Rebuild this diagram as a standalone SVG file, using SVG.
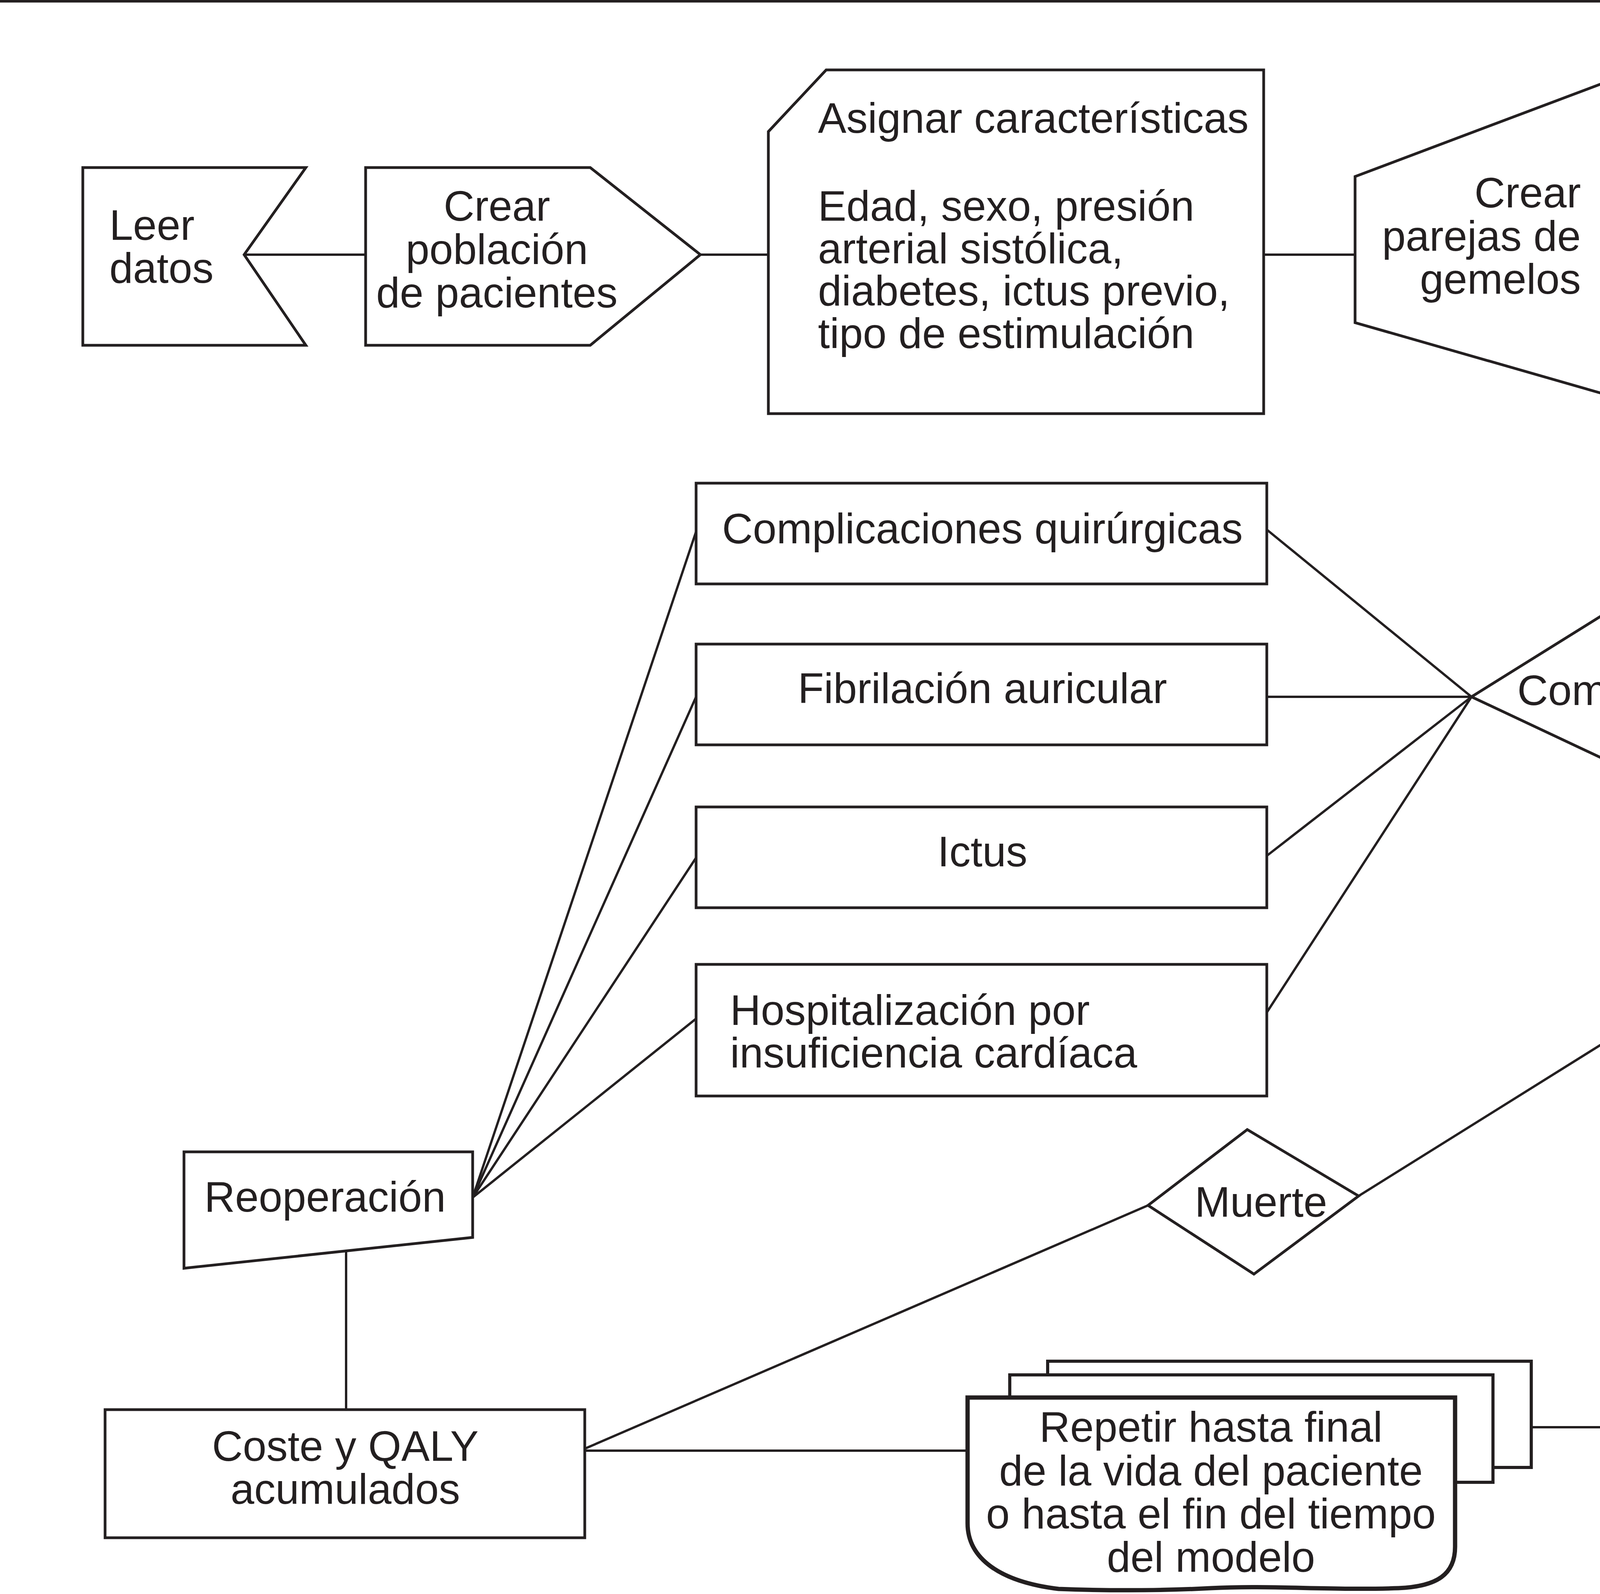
<svg xmlns="http://www.w3.org/2000/svg" width="6534" height="4081" viewBox="0 0 6534 4081">
<style>
.s{fill:#fff;stroke:#231f20;stroke-width:7;stroke-linejoin:miter}
.c{fill:none;stroke:#231f20;stroke-width:6}
.t{font-family:"Liberation Sans",Arial,Helvetica,sans-serif;font-size:109px;fill:#231f20}
.m{text-anchor:middle}
.e{text-anchor:end}
.thick{fill:#fff;stroke:#231f20;stroke-width:11}
.mid{fill:#fff;stroke:#231f20;stroke-width:8}
</style>
<rect x="0" y="0" width="6534" height="4081" fill="#fff"/>
<line x1="0" y1="3" x2="6534" y2="3" stroke="#231f20" stroke-width="7"/>
<g id="connectors">
<line class="c" x1="625" y1="652" x2="936" y2="652"/>
<line class="c" x1="1793" y1="652" x2="1967" y2="652"/>
<line class="c" x1="3235" y1="652" x2="3469" y2="652"/>
<line class="c" x1="4125" y1="652" x2="4583" y2="652"/>
<polyline class="c" points="5789,663 5932,663 5932,1131"/>
<polyline class="c" points="5971,1786 5971,2136 5919,2136"/>
<line class="c" x1="1210" y1="3066" x2="1782" y2="1361"/>
<line class="c" x1="1210" y1="3066" x2="1782" y2="1784"/>
<line class="c" x1="1210" y1="3066" x2="1782" y2="2196"/>
<line class="c" x1="1210" y1="3066" x2="1782" y2="2608"/>
<line class="c" x1="3243" y1="1356" x2="3767" y2="1784"/>
<line class="c" x1="3243" y1="1784" x2="3767" y2="1784"/>
<line class="c" x1="3243" y1="2191" x2="3767" y2="1784"/>
<line class="c" x1="3243" y1="2592" x2="3767" y2="1784"/>
<line class="c" x1="4748" y1="1784" x2="5014" y2="2103"/>
<line class="c" x1="5014" y1="2103" x2="3478" y2="3062"/>
<line class="c" x1="2939" y1="3086" x2="1497" y2="3709"/>
<line class="c" x1="886" y1="3205" x2="886" y2="3609"/>
<line class="c" x1="1497" y1="3714" x2="2477" y2="3714"/>
<line class="c" x1="3920" y1="3654" x2="4376" y2="3654"/>
</g>
<g id="leer-datos">
<polygon class="s" points="212,429 783,429 625,652 783,884 212,884"/>
<text class="t" x="280" y="614">Leer</text>
<text class="t" x="280" y="724">datos</text>
</g>
<g id="crear-poblacion">
<polygon class="s" points="936,429 1511,429 1793,652 1511,884 936,884"/>
<text class="t m" x="1272" y="565">Crear</text>
<text class="t m" x="1272" y="676">población</text>
<text class="t m" x="1272" y="787">de pacientes</text>
</g>
<g id="asignar">
<polygon class="s" points="2115,179 3235,179 3235,1059 1967,1059 1967,337"/>
<text class="t" x="2094" y="340">Asignar características</text>
<text class="t" x="2094" y="565">Edad, sexo, presión</text>
<text class="t" x="2094" y="674">arterial sistólica,</text>
<text class="t" x="2094" y="782">diabetes, ictus previo,</text>
<text class="t" x="2094" y="891">tipo de estimulación</text>
</g>
<g id="crear-parejas">
<polygon class="s" points="3469,452 4125,205 4125,1014 3469,826"/>
<text class="t e" x="4047" y="531">Crear</text>
<text class="t e" x="4047" y="642">parejas de</text>
<text class="t e" x="4047" y="752">gemelos</text>
</g>
<g id="implantar">
<rect class="s" x="4583" y="424" width="1206" height="481"/>
<text class="t" x="4651" y="635">Implartar marcapasos</text>
<text class="t" x="4651" y="745">MVP o DDD(R)</text>
</g>
<g id="determinar">
<rect class="s" x="5417" y="1131" width="903" height="655"/>
<text class="t m" x="5868" y="1369">Determinar</text>
<text class="t m" x="5868" y="1481">el perfil de</text>
<text class="t m" x="5868" y="1593">riesgo y sucesos</text>
</g>
<g id="retrasar">
<polygon class="s" points="5140,1933 5919,1933 5919,2341 5140,2341 5014,2103"/>
<text class="t" x="5160" y="2049">Retrasar hasta</text>
<text class="t" x="5160" y="2161">el próximo</text>
<text class="t" x="5160" y="2273">evento</text>
</g>
<g id="complicaciones">
<polygon class="s" points="4269,1471 4748,1784 4269,2020 3767,1784"/>
<text class="t m" x="4269" y="1805">Complicaciones</text>
</g>
<g id="complicaciones-quirurgicas">
<rect class="s" x="1782" y="1237" width="1461" height="258"/>
<text class="t m" x="2515" y="1391">Complicaciones quirúrgicas</text>
</g>
<g id="fibrilacion">
<rect class="s" x="1782" y="1649" width="1461" height="258"/>
<text class="t m" x="2515" y="1800">Fibrilación auricular</text>
</g>
<g id="ictus">
<rect class="s" x="1782" y="2066" width="1461" height="258"/>
<text class="t m" x="2515" y="2218">Ictus</text>
</g>
<g id="hospitalizacion">
<rect class="s" x="1782" y="2469" width="1461" height="337"/>
<text class="t" x="1869" y="2624">Hospitalización por</text>
<text class="t" x="1869" y="2733">insuficiencia cardíaca</text>
</g>
<g id="reoperacion">
<polygon class="s" points="471,2949 1210,2949 1210,3168 471,3247"/>
<text class="t" x="523" y="3102">Reoperación</text>
</g>
<g id="coste">
<rect class="s" x="269" y="3609" width="1228" height="328"/>
<text class="t m" x="884" y="3740">Coste y QALY</text>
<text class="t m" x="884" y="3850">acumulados</text>
</g>
<g id="muerte">
<polygon class="s" points="3193,2892 3478,3062 3210,3262 2939,3086"/>
<text class="t m" x="3228" y="3115">Muerte</text>
</g>
<g id="repetir">
<rect class="mid" x="2682" y="3485" width="1238" height="272"/>
<rect class="mid" x="2585" y="3520" width="1237" height="275"/>
<path class="thick" d="M2477,3578 H3725 V3960 C3725,4030 3680,4062 3580,4066 C3400,4072 3250,4058 3100,4066 C2950,4074 2820,4072 2710,4068 C2560,4050 2477,3990 2477,3900 Z"/>
<text class="t m" x="3100" y="3691">Repetir hasta final</text>
<text class="t m" x="3100" y="3803">de la vida del paciente</text>
<text class="t m" x="3100" y="3913">o hasta el fin del tiempo</text>
<text class="t m" x="3100" y="4024">del modelo</text>
</g>
<g id="muerte-o-final">
<polygon class="s" points="4523,3428 5754,3428 5754,3840 4529,3840 4376,3654"/>
<text class="t" x="4547" y="3585">Muerte o final del</text>
<text class="t" x="4547" y="3696">tiempo del modelo</text>
</g>
</svg>
